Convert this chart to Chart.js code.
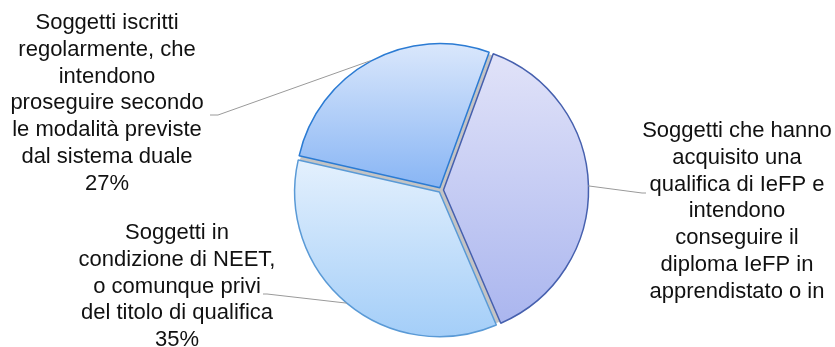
<!DOCTYPE html>
<html>
<head>
<meta charset="utf-8">
<script src="https://cdn.jsdelivr.net/npm/chart.js@4.4.1/dist/chart.umd.min.js"></script>
<style>
  html, body { margin: 0; padding: 0; background: #fff; }
  #wrap { width: 835px; height: 347px; }
</style>
</head>
<body>
<div id="wrap"><canvas id="pie-chart" width="835" height="347"></canvas></div>
<script>
// data
const categories = [
    ['Soggetti che hanno', 'acquisito una', 'qualifica di IeFP e', 'intendono', 'conseguire il', 'diploma IeFP in', 'apprendistato o in'],
    ['Soggetti in', 'condizione di NEET,', 'o comunque privi', 'del titolo di qualifica'],
    ['Soggetti iscritti', 'regolarmente, che', 'intendono', 'proseguire secondo', 'le modalità previste', 'dal sistema duale']
];
const values = [38, 35, 27];
const showPercent = [false, true, true];

// styling per slice
const gradTop = ['#e4e5f9', '#e3f0fd', '#dde9fc'];
const gradBottom = ['#a7b3ee', '#a2cdf8', '#88b5f4'];
const gradRange = [[0, 1], [0.4, 1], [0, 0.5]];
const borders = ['#4660ae', '#5a9ad6', '#2b7bd3'];
// label box: centre x, first line y, leader end x, leader end y, elbow direction
const labelPos = [
    {x: 737, y: 131, lx: 642, ly: 193, dx: 4},
    {x: 177, y: 233, lx: 267, ly: 294, dx: -4},
    {x: 107, y: 23, lx: 218, ly: 115, dx: -8}
];
const lineHeight = 26.8;

function sliceGradient(context) {
    const chart = context.chart;
    const area = chart.chartArea;
    const i = context.dataIndex;
    if (!area) return gradBottom[i];
    const h = area.bottom - area.top;
    const g = chart.ctx.createLinearGradient(0, area.top + h * gradRange[i][0], 0, area.top + h * gradRange[i][1]);
    g.addColorStop(0, gradTop[i]);
    g.addColorStop(1, gradBottom[i]);
    return g;
}

// gray shows through the gaps between the pulled-out slices
const gapPlugin = {
    id: 'gap',
    beforeDatasetsDraw(chart) {
        const arc = chart.getDatasetMeta(0).data[0];
        if (!arc) return;
        const c = chart.ctx;
        c.save();
        c.fillStyle = '#c4c4c4';
        c.beginPath();
        c.arc(arc.x, arc.y, arc.outerRadius, 0, Math.PI * 2);
        c.fill();
        c.restore();
    }
};

// labels with leader lines
const labelPlugin = {
    id: 'sliceLabels',
    afterDatasetsDraw(chart) {
        const c = chart.ctx;
        const meta = chart.getDatasetMeta(0);
        c.save();
        meta.data.forEach((arc, i) => {
            const p = labelPos[i];
            const mid = (arc.startAngle + arc.endAngle) / 2;
            const r = arc.outerRadius + 3;
            const sx = arc.x + Math.cos(mid) * r;
            const sy = arc.y + Math.sin(mid) * r;
            c.strokeStyle = '#9a9a9a';
            c.lineWidth = 1;
            c.beginPath();
            c.moveTo(sx, sy);
            c.lineTo(p.lx, p.ly);
            c.lineTo(p.lx + p.dx, p.ly);
            c.stroke();

            const lines = categories[i].slice();
            if (showPercent[i]) lines.push(values[i] + '%');
            c.fillStyle = '#111';
            c.font = '22px "Liberation Sans", Arial, sans-serif';
            c.textAlign = 'center';
            c.textBaseline = 'middle';
            lines.forEach((t, k) => c.fillText(t, p.x, p.y + k * lineHeight));
        });
        c.restore();
    }
};

const pieChart = new Chart(document.querySelector('#pie-chart').getContext('2d'), {
    type: 'pie',
    data: {
        labels: categories.map(l => l.join(' ')),
        datasets: [{
            data: values,
            backgroundColor: sliceGradient,
            borderColor: borders,
            borderWidth: 1.5,
            offset: 10,
            hoverOffset: 10
        }]
    },
    options: {
        responsive: false,
        animation: false,
        rotation: 20,
        layout: { padding: { left: 291, right: 244, top: 40, bottom: 7 } },
        plugins: {
            legend: { display: false },
            tooltip: { enabled: false }
        }
    },
    plugins: [gapPlugin, labelPlugin]
});
</script>
</body>
</html>
